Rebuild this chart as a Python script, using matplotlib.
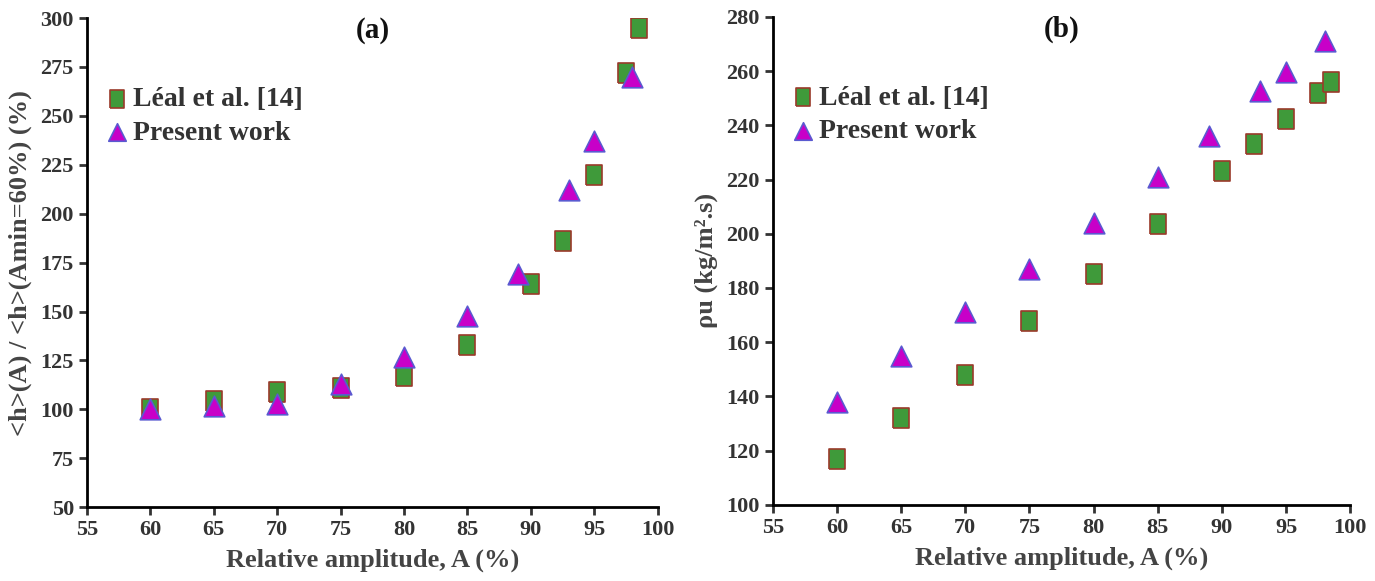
import matplotlib
matplotlib.use("Agg")
import matplotlib.pyplot as plt

plt.rcParams['font.family'] = ['Liberation Serif', 'DejaVu Serif']
plt.rcParams['font.weight'] = 'bold'

# (a) normalised heat transfer
leal_a_x = [60, 65, 70, 75, 80, 85, 90, 92.5, 95, 97.5, 98.5]
leal_a_y = [100, 104.5, 109, 111, 117, 133, 164, 186, 220, 272, 295]
pres_a_x = [60, 65, 70, 75, 80, 85, 89, 93, 95, 98]
pres_a_y = [100, 101.5, 102.5, 113, 127, 147.5, 169, 212, 237, 270]

# (b) mass flux
leal_b_x = [60, 65, 70, 75, 80, 85, 90, 92.5, 95, 97.5, 98.5]
leal_b_y = [117, 132, 148, 168, 185, 203.5, 223, 233, 242.5, 252, 256]
pres_b_x = [60, 65, 70, 75, 80, 85, 89, 93, 95, 98]
pres_b_y = [138, 155, 171, 187, 204, 221, 236, 252.5, 259.5, 271]

x_ticks = list(range(55, 101, 5))

fig = plt.figure(figsize=(13.75, 5.81), dpi=100)
ax1 = fig.add_axes([0.0633, 0.127, 0.415, 0.842])
ax2 = fig.add_axes([0.562, 0.131, 0.420, 0.840])

# slightly tall square, as in the original
rect = [(-0.8, -1), (0.8, -1), (0.8, 1), (-0.8, 1), (-0.8, -1)]
sq = dict(marker=rect, s=220, facecolor='#3f9a3a', edgecolor='#9a3a2a', linewidth=1.2, zorder=3)
tri = dict(marker='^', s=220, facecolor='#c800c8', edgecolor='#5a5ad0', linewidth=1.2, zorder=4)


def style(ax, ylim, yticks, ylabel, title):
    ax.set_xlim(55, 100)
    ax.set_ylim(*ylim)
    ax.set_xticks(x_ticks)
    ax.set_yticks(yticks)
    for s in ['top', 'right']:
        ax.spines[s].set_visible(False)
    for s in ['left', 'bottom']:
        ax.spines[s].set_linewidth(2)
    ax.tick_params(width=2, length=6, labelsize=16, colors='#333333')
    ax.set_xlabel('Relative amplitude, A (%)', fontsize=19, fontweight='bold', color='#444444', labelpad=6)
    ax.set_ylabel(ylabel, fontsize=19, fontweight='bold', color='#444444', labelpad=6)
    ax.text(0.5, 0.975, title, transform=ax.transAxes, ha='center', va='center',
            fontsize=21, fontweight='bold', color='#111111')
    ax.legend(loc='upper left', bbox_to_anchor=(0.035, 0.86), frameon=False, fontsize=20,
              borderaxespad=0, borderpad=0, handlelength=0.7, handletextpad=0.25,
              labelspacing=0.3, markerscale=0.85, labelcolor='#333333')


ax1.scatter(leal_a_x, leal_a_y, label='Léal et al. [14]', **sq)
ax1.scatter(pres_a_x, pres_a_y, label='Present work', **tri)
style(ax1, (50, 300), range(50, 301, 25), '<h>(A) / <h>(Amin=60%) (%)', '(a)')

ax2.scatter(leal_b_x, leal_b_y, label='Léal et al. [14]', **sq)
ax2.scatter(pres_b_x, pres_b_y, label='Present work', **tri)
style(ax2, (100, 280), range(100, 281, 20), 'ρu (kg/m².s)', '(b)')

fig.savefig('out.png', dpi=100)
